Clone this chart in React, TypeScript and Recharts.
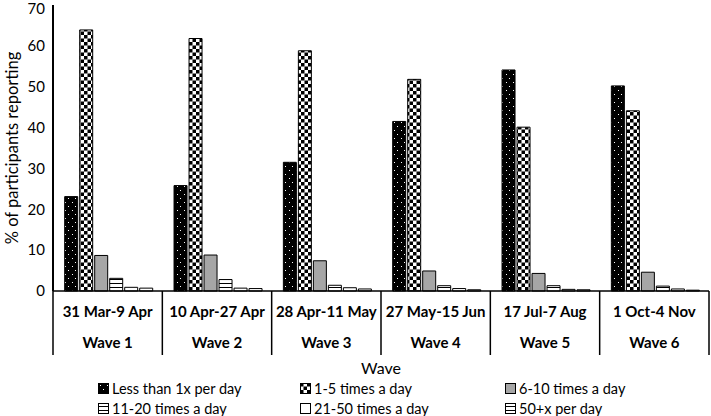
import React from 'react';
import { BarChart, Bar, XAxis, YAxis, Legend, Label } from 'recharts';

const waves = ['Wave 1', 'Wave 2', 'Wave 3', 'Wave 4', 'Wave 5', 'Wave 6'];
const dates = ['31 Mar-9 Apr', '10 Apr-27 Apr', '28 Apr-11 May', '27 May-15 Jun', '17 Jul-7 Aug', '1 Oct-4 Nov'];

const lessThan1 = [23.1, 25.8, 31.5, 41.5, 54.1, 50.2];
const times1to5 = [63.9, 61.8, 58.8, 51.8, 40.1, 44.1];
const times6to10 = [8.7, 8.8, 7.4, 4.9, 4.3, 4.6];
const times11to20 = [3.1, 2.8, 1.4, 1.3, 1.3, 1.2];
const times21to50 = [0.9, 0.7, 0.8, 0.6, 0.4, 0.5];
const times50plus = [0.7, 0.6, 0.5, 0.3, 0.3, 0.2];

const yTicks = [0, 10, 20, 30, 40, 50, 60, 70];

const series = [
  { key: 'less1', name: 'Less than 1x per day', fill: 'url(#dots)' },
  { key: 't1_5', name: '1-5 times a day', fill: 'url(#checker)' },
  { key: 't6_10', name: '6-10 times a day', fill: '#a6a6a6' },
  { key: 't11_20', name: '11-20 times a day', fill: 'url(#hstripe)' },
  { key: 't21_50', name: '21-50 times a day', fill: '#ffffff' },
  { key: 't50', name: '50+x per day', fill: 'url(#hstripe)' },
];

const data = waves.map((w, i) => ({
  wave: w,
  date: dates[i],
  less1: lessThan1[i],
  t1_5: times1to5[i],
  t6_10: times6to10[i],
  t11_20: times11to20[i],
  t21_50: times21to50[i],
  t50: times50plus[i],
}));

const FONT = 'Lato, "Liberation Sans", sans-serif';
const PLOT_W = 656;

const WaveTick = (props: any) => {
  const { x, y, index } = props;
  const band = PLOT_W / waves.length;
  const last = index === waves.length - 1;
  return (
    <g>
      <line x1={x - band / 2} y1={y} x2={x - band / 2} y2={y + 64} stroke="#000" strokeWidth={1.5} />
      {last && <line x1={x + band / 2} y1={y} x2={x + band / 2} y2={y + 64} stroke="#000" strokeWidth={1.5} />}
      <text x={x} y={y + 26} textAnchor="middle" fontSize={15} fontWeight="bold" fill="#000" fontFamily={FONT}>
        {dates[index]}
      </text>
      <text x={x} y={y + 57} textAnchor="middle" fontSize={15} fontWeight="bold" fill="#000" fontFamily={FONT}>
        {waves[index]}
      </text>
    </g>
  );
};

const YLabel = (props: any) => {
  const { viewBox } = props;
  const cx = 12;
  const cy = viewBox.y + viewBox.height / 2;
  return (
    <text x={cx} y={cy} transform={`rotate(-90 ${cx} ${cy})`} textAnchor="middle" dominantBaseline="central" fontSize={16.5} fill="#000" fontFamily={FONT}>
      % of participants reporting
    </text>
  );
};

const renderLegend = () => {
  const cols = [98, 300, 505];
  return (
    <div style={{ position: 'relative', width: 711, height: 40, fontFamily: FONT, fontSize: 14.5, color: '#000' }}>
      {series.map((s, i) => {
        const col = i % 3;
        const row = Math.floor(i / 3);
        return (
          <div key={s.key} style={{ position: 'absolute', left: cols[col], top: 2 + row * 20, height: 20, display: 'flex', alignItems: 'center' }}>
            <svg width={11} height={11} style={{ marginRight: 3 }}>
              <rect x={0.5} y={0.5} width={10} height={10} fill={s.fill} stroke="#000" strokeWidth={1} />
            </svg>
            <span>{s.name}</span>
          </div>
        );
      })}
    </div>
  );
};

export default function App() {
  return (
    <div style={{ position: 'absolute', left: 0, top: 0, width: 711, height: 416, background: '#fff' }}>
      <BarChart
        width={711}
        height={416}
        data={data}
        margin={{ top: 5, right: 2, bottom: 0, left: 0 }}
        barCategoryGap="10.7%"
        barGap={2}
      >
        <defs>
          <pattern id="dots" width={7} height={8} patternUnits="userSpaceOnUse">
            <rect width={7} height={8} fill="#000" />
            <rect x={2} y={2} width={1} height={1} fill="#fff" />
            <rect x={5} y={6} width={1} height={1} fill="#fff" />
          </pattern>
          <pattern id="checker" width={7} height={7} patternUnits="userSpaceOnUse">
            <rect width={7} height={7} fill="#fff" />
            <rect x={0} y={0} width={3.5} height={3.5} fill="#000" />
            <rect x={3.5} y={3.5} width={3.5} height={3.5} fill="#000" />
          </pattern>
          <pattern id="hstripe" width={4} height={4} patternUnits="userSpaceOnUse">
            <rect width={4} height={4} fill="#fff" />
            <rect x={0} y={3} width={4} height={1} fill="#000" />
          </pattern>
        </defs>
        <XAxis
          dataKey="wave"
          interval={0}
          tickLine={false}
          tickSize={0}
          tickMargin={0}
          axisLine={{ stroke: '#000', strokeWidth: 1.5 }}
          tick={<WaveTick />}
          height={85}
        >
          <Label value="Wave" position="insideBottom" offset={2} fontSize={16} fill="#000" fontFamily={FONT} />
        </XAxis>
        <YAxis
          domain={[0, 70]}
          ticks={yTicks}
          tickLine={false}
          axisLine={{ stroke: '#000', strokeWidth: 2 }}
          tick={{ fontSize: 15, fill: '#000', fontFamily: FONT }}
          width={53}
        >
          <Label content={<YLabel />} />
        </YAxis>
        <Legend verticalAlign="bottom" height={40} content={renderLegend} wrapperStyle={{ left: 0, bottom: 0 }} />
        {series.map((s) => (
          <Bar key={s.key} dataKey={s.key} name={s.name} fill={s.fill} stroke="#000" strokeWidth={1} isAnimationActive={false} />
        ))}
      </BarChart>
    </div>
  );
}
